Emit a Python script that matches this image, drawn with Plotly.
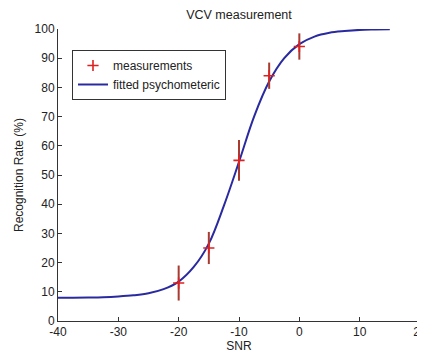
import plotly.graph_objects as go

# measurements
snr_meas = [-20, -15, -10, -5, 0]
rate_meas = [13, 25, 55, 84, 94]
rate_err = [6, 5.5, 7, 4.5, 4.5]

# fitted psychometric curve
snr_fit = [-40, -37.5, -35, -32.5, -30, -27.5, -25, -22.5, -20, -17.5, -15, -12.5,
           -10, -7.5, -5, -2.5, 0, 2.5, 5, 7.5, 10, 12.5, 15]
rate_fit = [8.0, 8.0, 8.05, 8.15, 8.4, 8.8, 9.5, 10.9, 13.5, 18.5, 26.5, 39.5,
            54.5, 70.0, 82.0, 90.0, 94.8, 97.4, 98.7, 99.3, 99.7, 99.85, 99.95]

x_ticks = [-40, -30, -20, -10, 0, 10, 20]
y_ticks = [0, 10, 20, 30, 40, 50, 60, 70, 80, 90, 100]

font = "Liberation Sans, Arial, sans-serif"

W, H = 417, 345
L, R, T, B = 50, 5, 21, 32

fig = go.Figure()
fig.add_trace(go.Scatter(
    x=snr_fit, y=rate_fit, mode="lines", name="fitted psychometeric",
    line=dict(color="#2a2aa0", width=2, shape="spline"),
))
fig.add_trace(go.Scatter(
    x=snr_meas, y=rate_meas, mode="markers", name="measurements",
    marker=dict(symbol="cross-thin", size=8, line=dict(color="#e02020", width=1.6)),
    error_y=dict(type="data", array=rate_err, visible=True, width=0,
                 color="#a83a30", thickness=2),
))

fig.update_layout(
    width=W, height=H,
    margin=dict(l=L, r=R, t=T, b=B, autoexpand=False),
    paper_bgcolor="white", plot_bgcolor="white",
    font=dict(family=font, size=12, color="#222"),
    title=dict(text="VCV measurement", x=(L + (W - R)) / 2 / W, xanchor="center",
               y=1 - 7 / H, yanchor="middle", font=dict(size=12.5, color="#222")),
    showlegend=True,
    legend=dict(x=(72 - 58) / 362, y=(321 - 50) / 292, xanchor="left", yanchor="top",
                bgcolor="white", bordercolor="#333", borderwidth=1,
                font=dict(size=12, color="#222"), traceorder="reversed",
                tracegroupgap=0, entrywidth=118, entrywidthmode="pixels"),
    xaxis=dict(range=[-40, 20], tickvals=x_ticks, ticktext=[str(v) for v in x_ticks],
               showgrid=False, zeroline=False, showline=True, linecolor="#333",
               linewidth=1, ticks="inside", ticklen=4, tickcolor="#333",
               automargin=False, ticklabeloverflow="allow",
               title=dict(text="SNR", standoff=0, font=dict(size=12))),
    yaxis=dict(range=[0, 100], tickvals=y_ticks, ticktext=[str(v) for v in y_ticks],
               showgrid=False, zeroline=False, showline=True, linecolor="#333",
               linewidth=1, ticks="inside", ticklen=4, tickcolor="#333",
               automargin=False,
               title=dict(text="Recognition Rate (%)", standoff=8, font=dict(size=12))),
)

fig.write_html("out.html")
